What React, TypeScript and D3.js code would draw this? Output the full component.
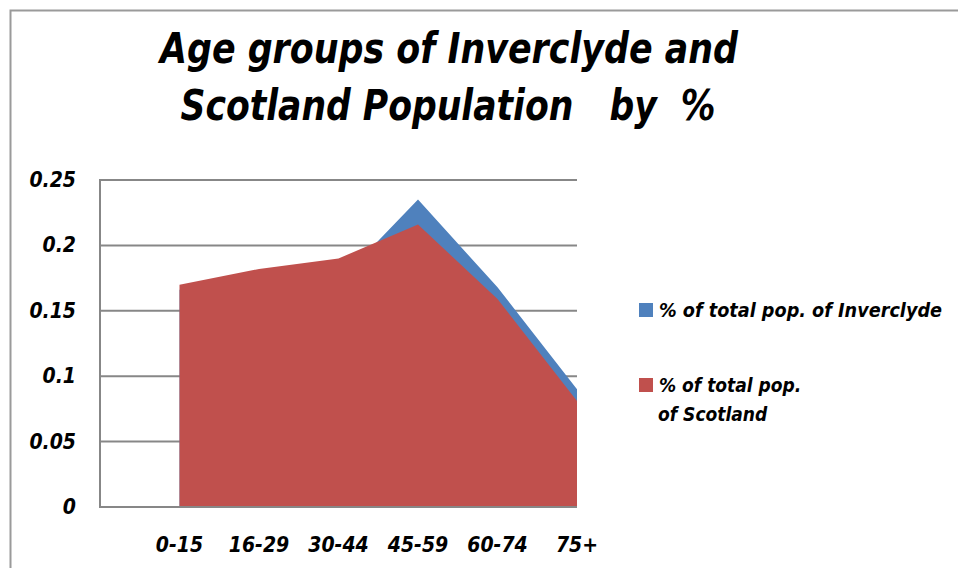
import React from "react";
import * as d3 from "d3";

const categories = ["0-15", "16-29", "30-44", "45-59", "60-74", "75+"];
const inverclyde = [0.166, 0.168, 0.172, 0.235, 0.168, 0.09];
const scotland = [0.17, 0.182, 0.19, 0.216, 0.159, 0.081];
const yTicks = [0, 0.05, 0.1, 0.15, 0.2, 0.25];
const yTickLabels = ["0", "0.05", "0.1", "0.15", "0.2", "0.25"];
const seriesNames = ["% of total pop. of Inverclyde", "% of total pop.|of Scotland"];
const titleLines = ["Age groups of Inverclyde and", "Scotland Population   by  %"];

const W = 958;
const H = 568;
const FONT = "'Liberation Sans Narrow', 'DejaVu Sans Condensed', 'Liberation Sans', sans-serif";
const BLUE = "#4F81BD";
const RED = "#C0504D";
const GRID = "#878787";

export default function App() {
  const plotLeft = 100;
  const plotRight = 577;
  const plotTop = 180;
  const plotBottom = 507;

  const x = d3.scaleLinear().domain([-1, categories.length - 1]).range([plotLeft, plotRight]);
  const y = d3.scaleLinear().domain([0, 0.25]).range([plotBottom, plotTop]);

  const area = d3
    .area<number>()
    .x((_, i) => x(i))
    .y0(y(0))
    .y1((d) => y(d));

  return (
    <svg
      width={W}
      height={H}
      style={{ position: "absolute", left: 0, top: 0, background: "#fff" }}
      fontFamily={FONT}
    >
      <rect x={0} y={0} width={W} height={H} fill="#fff" />
      {/* outer chart border */}
      <path d={`M10.5,${H} L10.5,10.5 L${W},10.5`} fill="none" stroke="#9a9a9a" strokeWidth={2} />

      {/* title */}
      <text x={449} y={63} textAnchor="middle" fontSize={42} fontWeight="bold" fontStyle="italic"
        textLength={578} lengthAdjust="spacingAndGlyphs">{titleLines[0]}</text>
      <text x={448} y={120} textAnchor="middle" fontSize={42} fontWeight="bold" fontStyle="italic"
        textLength={535} lengthAdjust="spacingAndGlyphs" style={{ whiteSpace: "pre" }}>{titleLines[1]}</text>

      {/* gridlines */}
      {yTicks.slice(1).map((t) => (
        <line key={t} x1={plotLeft} x2={plotRight} y1={y(t)} y2={y(t)} stroke={GRID} strokeWidth={2} />
      ))}

      {/* areas */}
      <path d={area(inverclyde) || ""} fill={BLUE} />
      <path d={area(scotland) || ""} fill={RED} />

      {/* axes */}
      <line x1={plotLeft} x2={plotLeft} y1={plotTop - 1} y2={plotBottom + 1} stroke={GRID} strokeWidth={2} />
      <line x1={plotLeft} x2={plotRight} y1={plotBottom} y2={plotBottom} stroke={GRID} strokeWidth={2} />

      {/* y labels */}
      {yTicks.map((t, i) => (
        <text key={t} x={76} y={y(t) + 7} textAnchor="end" fontSize={21} fontWeight="bold" fontStyle="italic">
          {yTickLabels[i]}
        </text>
      ))}

      {/* x labels */}
      {categories.map((c, i) => (
        <text key={c} x={x(i)} y={552} textAnchor="middle" fontSize={21} fontWeight="bold" fontStyle="italic">
          {c}
        </text>
      ))}

      {/* legend */}
      <rect x={639} y={303} width={14} height={14} fill={BLUE} />
      <text x={659} y={317} fontSize={19} fontWeight="bold" fontStyle="italic" textLength={283} lengthAdjust="spacingAndGlyphs">
        {seriesNames[0]}
      </text>
      <rect x={639} y={378} width={14} height={14} fill={RED} />
      {seriesNames[1].split("|").map((line, i) => (
        <text key={i} x={659 + (i === 0 ? 0 : -1)} y={392 + i * 29} fontSize={19} fontWeight="bold" fontStyle="italic">
          {line}
        </text>
      ))}
    </svg>
  );
}
